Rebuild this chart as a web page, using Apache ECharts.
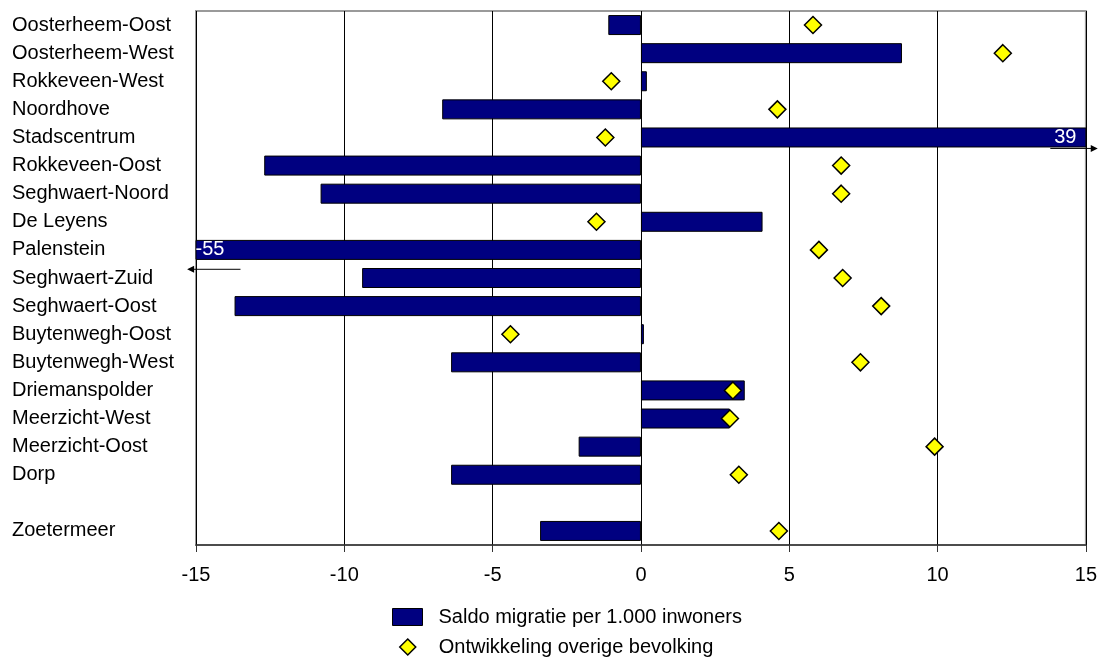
<!DOCTYPE html>
<html>
<head>
<meta charset="utf-8">
<script src="https://cdn.jsdelivr.net/npm/echarts@6/dist/echarts.min.js"></script>
<style>
html,body{margin:0;padding:0;background:#fff;}
#chart{width:1100px;height:657px;}
</style>
</head>
<body>
<div id="chart"></div>
<script>
const categories = ['Oosterheem-Oost','Oosterheem-West','Rokkeveen-West','Noordhove','Stadscentrum','Rokkeveen-Oost','Seghwaert-Noord','De Leyens','Palenstein','Seghwaert-Zuid','Seghwaert-Oost','Buytenwegh-Oost','Buytenwegh-West','Driemanspolder','Meerzicht-West','Meerzicht-Oost','Dorp','','Zoetermeer'];
const saldoMigratie = [-1.1, 8.8, 0.2, -6.7, 39, -12.7, -10.8, 4.1, -55, -9.4, -13.7, 0.1, -6.4, 3.5, 3.0, -2.1, -6.4, null, -3.4];
const overigeBevolking = [5.8, 12.2, -1.0, 4.6, -1.2, 6.75, 6.75, -1.5, 6.0, 6.8, 8.1, -4.4, 7.4, 3.1, 3.0, 9.9, 3.3, null, 4.65];
const xTicks = [-15, -10, -5, 0, 5, 10, 15];
const seriesNames = ['Saldo migratie per 1.000 inwoners', 'Ontwikkeling overige bevolking'];

const FONT = '"Liberation Sans", Arial, sans-serif';
const xMin = xTicks[0], xMax = xTicks[xTicks.length - 1];

const chart = echarts.init(document.getElementById('chart'), null, {renderer: 'canvas'});

const barData = saldoMigratie.map(v => {
  if (v === null) return null;
  if (v > xMax) return {value: v, label: {show: true, position: 'insideRight', distance: 10}};
  if (v < xMin) return {value: v, label: {show: true, position: 'insideLeft', distance: 0}};
  return v;
});
const scatterData = overigeBevolking.map((v, i) => v === null ? null : [v, categories[i]]).filter(d => d);

chart.setOption({
  animation: false,
  textStyle: {fontFamily: FONT},
  grid: {left: 196, right: 12, top: 11, bottom: 112, show: true, borderColor: '#9a9a9a', borderWidth: 2, backgroundColor: '#fff'},
  xAxis: {
    type: 'value', min: xMin, max: xMax, interval: 5,
    axisLine: {show: true, onZero: false, lineStyle: {color: '#333', width: 1.5}},
    axisTick: {show: true, inside: false, length: 7, lineStyle: {color: '#333'}},
    splitLine: {show: true, lineStyle: {color: '#000', width: 1}},
    axisLabel: {fontSize: 20, color: '#000', margin: 20, fontFamily: FONT}
  },
  yAxis: {
    type: 'category', data: categories, inverse: true,
    axisLine: {show: false}, axisTick: {show: false}, splitLine: {show: false},
    axisLabel: {fontSize: 20, color: '#000', align: 'left', margin: 184, fontFamily: FONT}
  },
  legend: [
    {
      left: 387, top: 602, itemWidth: 30, itemHeight: 17,
      textStyle: {fontSize: 20, color: '#000', fontFamily: FONT, padding: [0, 0, 0, 11]},
      data: [{name: seriesNames[0], icon: 'rect', itemStyle: {color: '#000080', borderColor: '#000', borderWidth: 1}}]
    },
    {
      left: 394, top: 632, itemWidth: 16, itemHeight: 16,
      textStyle: {fontSize: 20, color: '#000', fontFamily: FONT, padding: [0, 0, 0, 18]},
      data: [{name: seriesNames[1], icon: 'diamond', itemStyle: {color: '#ffff00', borderColor: '#000', borderWidth: 1.5}}]
    }
  ],
  series: [
    {
      name: seriesNames[0], type: 'bar', data: barData, barWidth: 20, clip: true,
      itemStyle: {color: '#000080', borderColor: '#000', borderWidth: 1},
      label: {show: false, color: '#fff', fontSize: 20, fontFamily: FONT, formatter: '{c}'},
      z: 2
    },
    {
      name: seriesNames[1], type: 'scatter', data: scatterData, symbol: 'diamond', symbolSize: 17,
      itemStyle: {color: '#ffff00', borderColor: '#000', borderWidth: 1.5, opacity: 1},
      z: 3
    }
  ]
});

// overflow arrows for clipped bars
const arrows = [
  {cat: 'Stadscentrum', from: 13.8, to: 15.4, dy: 0.39},
  {cat: 'Palenstein', from: -13.5, to: -15.3, dy: 0.69}
];
const graphics = [];
arrows.forEach(a => {
  const idx = categories.indexOf(a.cat);
  const p1 = chart.convertToPixel({gridIndex: 0}, [a.from, idx]);
  const p2 = chart.convertToPixel({gridIndex: 0}, [a.to, idx]);
  const pn = chart.convertToPixel({gridIndex: 0}, [a.from, idx + 1]);
  const y = p1[1] + a.dy * (pn[1] - p1[1]);
  const dir = Math.sign(p2[0] - p1[0]);
  graphics.push({type: 'line', shape: {x1: p1[0], y1: y, x2: p2[0] - dir * 6, y2: y}, style: {stroke: '#000', lineWidth: 1}, z: 100});
  graphics.push({type: 'polygon', shape: {points: [[p2[0], y], [p2[0] - dir * 7, y - 3.5], [p2[0] - dir * 7, y + 3.5]]}, style: {fill: '#000'}, z: 100});
});
chart.setOption({graphic: graphics});
</script>
</body>
</html>
